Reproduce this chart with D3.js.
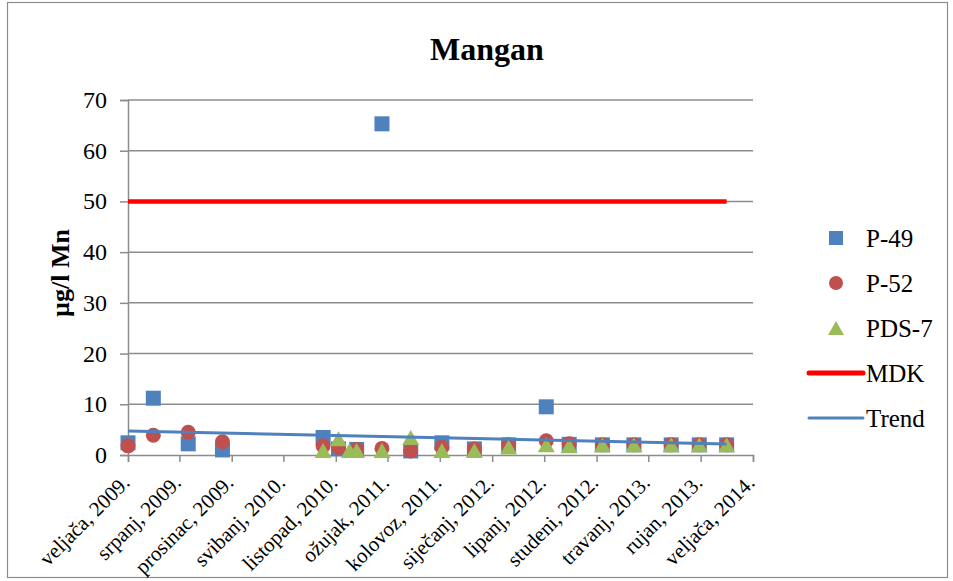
<!DOCTYPE html>
<html>
<head>
<meta charset="utf-8">
<script src="https://cdn.jsdelivr.net/npm/d3@7/dist/d3.min.js"></script>
<style>
  html, body { margin: 0; padding: 0; background: #fff; }
  text { font-family: "Liberation Serif", "Times New Roman", serif; fill: #000; }
</style>
</head>
<body>
<svg id="chart" width="953" height="581"></svg>
<script>
// Sampling dates and manganese concentrations (µg/l Mn)
const sampleDates = [
  "2009-02-01", "2009-04-16", "2009-07-27", "2009-11-04",
  "2010-08-25", "2010-10-09", "2010-11-10", "2010-12-01",
  "2011-02-13", "2011-05-08", "2011-08-07", "2011-11-10",
  "2012-02-18", "2012-06-07", "2012-08-13", "2012-11-18",
  "2013-02-18", "2013-06-07", "2013-08-28", "2013-11-16"
];
const p49Values  = [2.4, 11.2, 2.2, 1.0, 3.45, 1.2, null, 1.1, 65.3, 0.8, 2.4, 1.2, 2.0, 9.5, 2.1, 2.0, 2.0, 2.0, 2.0, 2.0];
const p52Values  = [1.8, 3.9, 4.5, 2.6, 1.8, 1.5, null, 1.1, 1.3, 0.8, 1.5, 1.2, 2.0, 2.8, 2.2, 2.0, 2.0, 2.0, 2.0, 2.0];
const pds7Values = [null, null, null, null, 0.9, 3.2, 0.9, 0.9, 0.9, 3.45, 0.9, 0.9, 1.6, 2.0, 1.8, 2.0, 2.0, 2.0, 2.0, 2.0];

// Limit value (MDK) and linear trend, given at the first and last sampling date
const limitValues = [50, 50];
const trendValues = [4.75, 2.15];

// Axis ticks
const xTickDates = [
  "2009-02-01", "2009-07-01", "2009-12-01", "2010-05-01", "2010-10-01",
  "2011-03-01", "2011-08-01", "2012-01-01", "2012-06-01", "2012-11-01",
  "2013-04-01", "2013-09-01", "2014-02-01"
];
const xTickLabels = [
  "veljača, 2009.", "srpanj, 2009.", "prosinac, 2009.", "svibanj, 2010.", "listopad, 2010.",
  "ožujak, 2011.", "kolovoz, 2011.", "siječanj, 2012.", "lipanj, 2012.", "studeni, 2012.",
  "travanj, 2013.", "rujan, 2013.", "veljača, 2014."
];
const yTickValues = [0, 10, 20, 30, 40, 50, 60, 70];

const seriesNames = ["P-49", "P-52", "PDS-7", "MDK", "Trend"];
const seriesColors = ["#4F81BD", "#C0504D", "#9BBB59", "#FF0000", "#4F81BD"];

const parse = d3.timeParse("%Y-%m-%d");
const dates = sampleDates.map(parse);
const firstDate = dates[0], lastDate = dates[dates.length - 1];

const svg = d3.select("#chart");
const gridColor = "#8c8c8c";

const x = d3.scaleTime()
  .domain([parse(xTickDates[0]), parse(xTickDates[xTickDates.length - 1])])
  .range([128, 753]);
const y = d3.scaleLinear().domain([0, 70]).range([455, 100]);

// outer chart border
svg.append("rect")
  .attr("x", 7.5).attr("y", 2.5).attr("width", 940).attr("height", 575)
  .attr("fill", "none").attr("stroke", "#8c8c8c").attr("stroke-width", 1.2);

// text helper
function label(g, px, py, str, opts = {}) {
  return g.append("text")
    .attr("transform", `translate(${px},${py})${opts.rotate ? ` rotate(${opts.rotate})` : ""}`)
    .attr("text-anchor", opts.anchor || "start")
    .attr("font-size", opts.size || 24)
    .attr("font-weight", opts.bold ? "bold" : "normal")
    .text(str);
}

// title
label(svg, 487, 60, "Mangan", { anchor: "middle", size: 32, bold: true });

// horizontal gridlines
svg.append("g").selectAll("line").data(yTickValues.filter(v => v > 0)).join("line")
  .attr("x1", 128).attr("x2", 753)
  .attr("y1", d => y(d)).attr("y2", d => y(d))
  .attr("stroke", gridColor).attr("stroke-width", 1.5);

// y axis
const yAxis = svg.append("g").attr("transform", "translate(128,0)")
  .call(d3.axisLeft(y).tickValues(yTickValues).tickSize(8).tickFormat(""));
yAxis.select(".domain").attr("stroke", gridColor).attr("stroke-width", 1.5);
yAxis.selectAll(".tick line").attr("stroke", gridColor).attr("stroke-width", 1.5);
yTickValues.forEach(v => label(svg, 107, y(v) + 8, String(v), { anchor: "end", size: 24 }));

// y axis title
label(svg, 69, 273, "µg/l Mn", { anchor: "middle", size: 26, bold: true, rotate: -90 });

// x axis
const xAxis = svg.append("g").attr("transform", "translate(0,455)")
  .call(d3.axisBottom(x).tickValues(xTickDates.map(parse)).tickSize(7).tickFormat(""));
xAxis.select(".domain").attr("stroke", gridColor).attr("stroke-width", 1.5);
xAxis.selectAll(".tick line").attr("stroke", gridColor).attr("stroke-width", 1.5);
xTickDates.forEach((d, i) => {
  label(svg, x(parse(d)) + 3, 484, xTickLabels[i], { anchor: "end", size: 21, rotate: -45 });
});

// marker shapes
const triPath = (w, h) => `M0,${-h / 2}L${w / 2},${h / 2}L${-w / 2},${h / 2}Z`;

const plot = svg.append("g");

function points(values) {
  return values.map((v, i) => ({ d: dates[i], v })).filter(p => p.v != null);
}

// P-49 squares
plot.append("g").selectAll("rect").data(points(p49Values)).join("rect")
  .attr("x", p => x(p.d) - 7.5).attr("y", p => y(p.v) - 7.5)
  .attr("width", 15).attr("height", 15)
  .attr("fill", seriesColors[0]);

// P-52 circles
plot.append("g").selectAll("circle").data(points(p52Values)).join("circle")
  .attr("cx", p => x(p.d)).attr("cy", p => y(p.v)).attr("r", 7.5)
  .attr("fill", seriesColors[1]);

// PDS-7 triangles
plot.append("g").selectAll("path").data(points(pds7Values)).join("path")
  .attr("transform", p => `translate(${x(p.d)},${y(p.v)})`)
  .attr("d", triPath(17, 15))
  .attr("fill", seriesColors[2]);

// MDK limit line
const line = d3.line().x(p => x(p.d)).y(p => y(p.v));
plot.append("path")
  .attr("d", line([{ d: firstDate, v: limitValues[0] }, { d: lastDate, v: limitValues[1] }]))
  .attr("stroke", seriesColors[3]).attr("stroke-width", 4.5).attr("fill", "none");

// trend line
plot.append("path")
  .attr("d", line([{ d: firstDate, v: trendValues[0] }, { d: lastDate, v: trendValues[1] }]))
  .attr("stroke", seriesColors[4]).attr("stroke-width", 3).attr("fill", "none");

// legend
const legend = svg.append("g");
const legendY = [238, 283, 328, 373, 418];
const legendTextX = 866;
legend.append("rect").attr("x", 836 - 7).attr("y", legendY[0] - 7).attr("width", 14).attr("height", 14)
  .attr("fill", seriesColors[0]);
legend.append("circle").attr("cx", 836).attr("cy", legendY[1]).attr("r", 7)
  .attr("fill", seriesColors[1]);
legend.append("path").attr("transform", `translate(836,${legendY[2]})`).attr("d", triPath(16, 14))
  .attr("fill", seriesColors[2]);
legend.append("line").attr("x1", 809).attr("x2", 863).attr("y1", legendY[3]).attr("y2", legendY[3])
  .attr("stroke", seriesColors[3]).attr("stroke-width", 5).attr("stroke-linecap", "round");
legend.append("line").attr("x1", 809).attr("x2", 863).attr("y1", legendY[4]).attr("y2", legendY[4])
  .attr("stroke", seriesColors[4]).attr("stroke-width", 3).attr("stroke-linecap", "round");
seriesNames.forEach((name, i) => label(legend, legendTextX, legendY[i] + 9, name, { size: 25 }));
</script>
</body>
</html>
